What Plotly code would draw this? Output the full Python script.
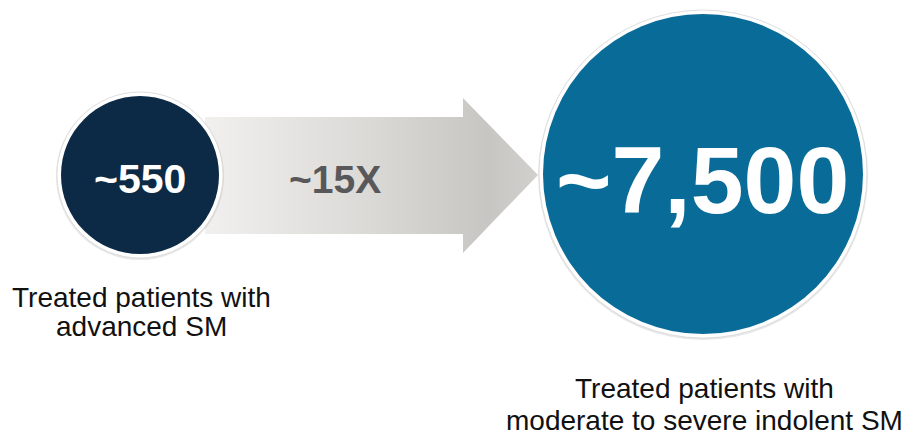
import plotly.graph_objects as go

# ---- data ----
values = ["~550", "~7,500"]
multiplier = "~15X"
captions_left = ["Treated patients with", "advanced SM"]
captions_right = ["Treated patients with", "moderate to severe indolent SM"]
circle_colors = ["#0c2a45", "#096b98"]

W, H = 916, 442

fig = go.Figure()

# arrow (gradient filled polygon)
ax = [205, 463, 463, 538, 463, 463, 205, 205]
ay = [117, 117, 98, 175, 253, 234, 234, 117]
fig.add_trace(go.Scatter(
    x=ax, y=ay, mode="lines", fill="toself", line=dict(width=0, color="rgba(0,0,0,0)"),
    fillgradient=dict(type="horizontal",
                      colorscale=[[0, "#f1f0ee"], [0.5, "#dbd9d6"], [0.85, "#c8c6c3"], [1, "#d2d0cd"]]),
    hoverinfo="skip", showlegend=False))

# circles: shadow, white ring, fill
centers = [(140, 175), (703, 174)]
radii = [79, 160]
shapes = []
for (cx, cy), r, col in zip(centers, radii, circle_colors):
    shapes.append(dict(type="circle", xref="x", yref="y",
                       x0=cx - r - 5, x1=cx + r + 5, y0=cy - r - 4, y1=cy + r + 6,
                       fillcolor="rgba(120,120,120,0.18)", line=dict(width=0), layer="above"))
    shapes.append(dict(type="circle", xref="x", yref="y",
                       x0=cx - r - 4, x1=cx + r + 4, y0=cy - r - 4, y1=cy + r + 4,
                       fillcolor="#ffffff", line=dict(width=0.8, color="#d8d8d8"), layer="above"))
    shapes.append(dict(type="circle", xref="x", yref="y",
                       x0=cx - r, x1=cx + r, y0=cy - r, y1=cy + r,
                       fillcolor=col, line=dict(width=0), layer="above"))

annotations = [
    dict(x=140, y=179, text="<b>%s</b>" % values[0], font=dict(size=41, color="white")),
    dict(x=702, y=180, text="<b>%s</b>" % values[1], font=dict(size=95, color="white")),
    dict(x=335, y=179, text="<b>%s</b>" % multiplier, font=dict(size=39, color="#58585a")),
    dict(x=141, y=297, text=captions_left[0], font=dict(size=28, color="#111111")),
    dict(x=141, y=326, text=captions_left[1], font=dict(size=28, color="#111111")),
    dict(x=704, y=388, text=captions_right[0], font=dict(size=28, color="#111111")),
    dict(x=704, y=420, text=captions_right[1], font=dict(size=28, color="#111111")),
]
for a in annotations:
    a.update(xref="x", yref="y", showarrow=False, xanchor="center", yanchor="middle")
    a["font"]["family"] = "Liberation Sans, Arial, sans-serif"

fig.update_layout(
    width=W, height=H, margin=dict(l=0, r=0, t=0, b=0),
    paper_bgcolor="#ffffff", plot_bgcolor="#ffffff",
    xaxis=dict(range=[0, W], visible=False, fixedrange=True),
    yaxis=dict(range=[H, 0], visible=False, fixedrange=True),
    shapes=shapes, annotations=annotations, showlegend=False,
)

fig.write_html("out.html", config={"displayModeBar": False})
